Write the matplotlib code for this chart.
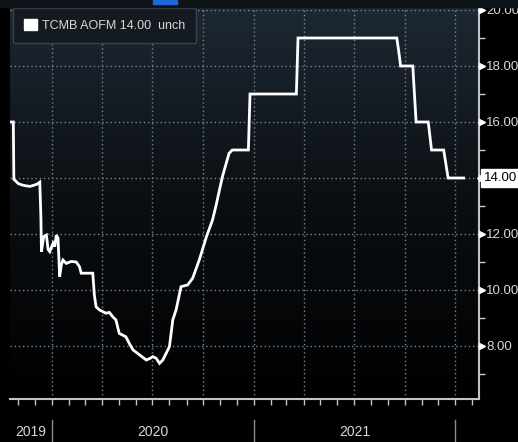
import pandas as pd
import numpy as np
import matplotlib
matplotlib.use("Agg")
import matplotlib.pyplot as plt
import matplotlib.dates as mdates
from matplotlib.colors import LinearSegmentedColormap
from matplotlib.patches import Patch, Rectangle
from matplotlib.transforms import blended_transform_factory

# TCMB average funding cost (AOFM)
dates = [
    "2019-10-16", "2019-10-23", "2019-10-24", "2019-10-28", "2019-11-01",
    "2019-11-08", "2019-11-15", "2019-11-22", "2019-11-29", "2019-12-05",
    "2019-12-10", "2019-12-12", "2019-12-13", "2019-12-17", "2019-12-22",
    "2019-12-25", "2019-12-28", "2020-01-03", "2020-01-06", "2020-01-09",
    "2020-01-12", "2020-01-15", "2020-01-18", "2020-01-21", "2020-01-27",
    "2020-02-05", "2020-02-14", "2020-02-20", "2020-02-23", "2020-03-15",
    "2020-03-18", "2020-03-21", "2020-03-27", "2020-04-08", "2020-04-14",
    "2020-04-20", "2020-04-26", "2020-05-02", "2020-05-14", "2020-05-20",
    "2020-05-27", "2020-06-08", "2020-06-20", "2020-06-26", "2020-07-02",
    "2020-07-08", "2020-07-14", "2020-07-20", "2020-07-26", "2020-08-01",
    "2020-08-07", "2020-08-13", "2020-08-22", "2020-09-03", "2020-09-12",
    "2020-09-24", "2020-10-07", "2020-10-18", "2020-10-24", "2020-11-05",
    "2020-11-17", "2020-11-23", "2020-12-22", "2020-12-25", "2021-03-19",
    "2021-03-22", "2021-09-17", "2021-09-20", "2021-09-24", "2021-10-16",
    "2021-10-22", "2021-11-13", "2021-11-16", "2021-11-19", "2021-12-11",
    "2021-12-19", "2022-01-16",
]
aofm = [
    16.00, 16.00, 13.95, 13.88, 13.80,
    13.75, 13.72, 13.70, 13.74, 13.78,
    13.85, 12.60, 11.37, 11.90, 11.96,
    11.45, 11.37, 11.67, 11.55, 11.96,
    11.85, 10.48, 10.90, 11.07, 10.95,
    11.02, 11.00, 10.83, 10.60, 10.60,
    9.80, 9.40, 9.29, 9.17, 9.20,
    9.05, 8.93, 8.45, 8.33, 8.10,
    7.86, 7.68, 7.50, 7.55, 7.62,
    7.56, 7.38, 7.50, 7.74, 7.98,
    8.93, 9.29, 10.12, 10.18, 10.42,
    11.07, 11.90, 12.50, 12.98, 14.05,
    14.88, 15.00, 15.00, 17.00, 17.00,
    19.00, 19.00, 18.60, 18.00, 18.00,
    16.00, 16.00, 15.50, 15.00, 15.00,
    14.00, 14.00,
]
y_ticks = [8, 10, 12, 14, 16, 18, 20]
years = ["2019", "2020", "2021"]
legend_label = "TCMB AOFM 14.00  unch"
last_label = "14.00"

dates = pd.to_datetime(dates)
x_lo, x_hi = pd.Timestamp("2019-10-17"), pd.Timestamp("2022-02-13")

plt.rcParams["font.family"] = "Liberation Sans"
txt = "#d8d8d8"

W, H = 518, 442
fig = plt.figure(figsize=(W / 100, H / 100), dpi=100, facecolor="black")
ax = fig.add_axes([10 / W, 1 - 399 / H, 469 / W, 399 / H])
ax.set_facecolor("black")

# gradient background, dark slate at top fading to black
cmap = LinearSegmentedColormap.from_list("bg", ["#000000", "#0b0f13", "#1e2934"])
grad = np.linspace(0, 1, 256).reshape(-1, 1)
ax.imshow(grad, cmap=cmap, origin="lower", extent=(0, 1, 0, 1),
          transform=ax.transAxes, aspect="auto", zorder=0)

ax.plot(dates, aofm, color="white", lw=2, zorder=3, solid_joinstyle="miter")

ax.set_xlim(x_lo, x_hi)
ax.set_ylim(6.107, 20.357)

# grid
ax.xaxis.set_major_locator(mdates.MonthLocator(bymonth=[1, 4, 7, 10]))
ax.xaxis.set_minor_locator(mdates.MonthLocator())
ax.set_yticks(y_ticks)
ax.set_yticks([7, 9, 11, 13, 15, 17, 19], minor=True)
ax.grid(True, which="major", color="#7a848d", lw=1, ls=(0, (1, 2)), zorder=1)

for s in ["left", "top"]:
    ax.spines[s].set_visible(False)
for s in ["right", "bottom"]:
    ax.spines[s].set_color("#c4c4c4")
    ax.spines[s].set_linewidth(1.5)

ax.yaxis.tick_right()
ax.tick_params(axis="y", which="major", length=0, pad=5, labelcolor=txt, labelsize=9.5)
ax.tick_params(axis="y", which="minor", length=4, width=1, color="#d0d0d0")
ax.set_yticklabels(["" if v == 14 else f"{v:.2f}" for v in y_ticks])
ax.tick_params(axis="x", which="both", length=4, width=1, color="#c4c4c4",
               labelbottom=False, direction="out")

# small arrow heads at the major y ticks
trans_y = blended_transform_factory(ax.transAxes, ax.transData)
ax.plot([1.006] * len(y_ticks), y_ticks, ls="none", marker=">", ms=4,
        color="white", transform=trans_y, clip_on=False, zorder=4)

# last value tag: white box with a small point on its left
ax.annotate(last_label, xy=(1, 14), xycoords=trans_y, xytext=(3.5, 0),
            textcoords="offset points", va="center", ha="left",
            fontsize=9.5, color="black", zorder=6,
            bbox=dict(boxstyle="square,pad=0.2", fc="white", ec="white"))
ax.plot([1.003], [14], ls="none", marker="<", ms=5, color="white",
        transform=trans_y, clip_on=False, zorder=5)

# year labels and separators under the axis
trans_x = blended_transform_factory(ax.transData, ax.transAxes)
bounds = [x_lo] + [pd.Timestamp(f"{y}-01-01") for y in (2020, 2021)] + [pd.Timestamp("2022-01-01")]
for i, yr in enumerate(years):
    mid = bounds[i] + (bounds[i + 1] - bounds[i]) / 2
    ax.text(mid, -0.083, yr, transform=trans_x, ha="center", va="center",
            color=txt, fontsize=10)
for b in bounds[1:]:
    ax.plot([b, b], [-0.053, -0.11], transform=trans_x, color="#8a8a8a",
            lw=1, clip_on=False)

# legend box
leg = ax.legend([Patch(facecolor="white", edgecolor="white")], [legend_label],
                loc="upper left", bbox_to_anchor=(0.006, 0.98), borderaxespad=0,
                handlelength=1.0, handleheight=1.0, handletextpad=0.4,
                fontsize=9, labelcolor=txt, facecolor="#151a20",
                edgecolor="#3a424a", framealpha=1, fancybox=True,
                borderpad=0.9)
leg.get_frame().set_linewidth(1)

# top strip with the blue tab
fig.patches.append(Rectangle((0, 1 - 7 / H), 1, 7 / H, transform=fig.transFigure,
                             color="#0e1318", zorder=5))
fig.patches.append(Rectangle((153 / W, 1 - 4 / H), 24 / W, 4 / H,
                             transform=fig.transFigure, color="#1f66d8", zorder=6))

fig.savefig("out.png", dpi=100, facecolor="black")
